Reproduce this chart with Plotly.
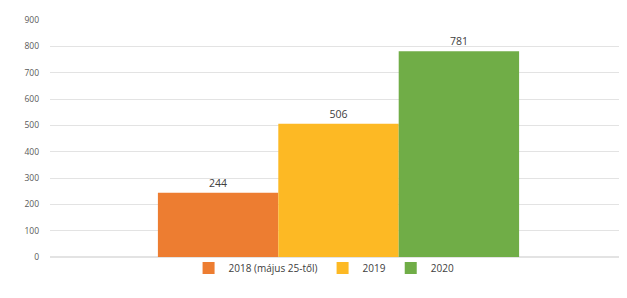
import plotly.graph_objects as go

series_names = ["2018 (május 25-től)", "2019", "2020"]
values = [244, 506, 781]
colors = ["#ED7D31", "#FDB924", "#70AD47"]
category = [""]
y_ticks = [0, 100, 200, 300, 400, 500, 600, 700, 800, 900]

fig = go.Figure()
for name, v, c in zip(series_names, values, colors):
    fig.add_trace(go.Bar(
        x=category, y=[v], name=name, marker=dict(color=c, line=dict(width=0)),
        text=[str(v)], textposition="outside",
        textfont=dict(family="Open Sans, Arial, sans-serif", size=10.5, color="#404040"),
        cliponaxis=False,
    ))

fig.update_layout(
    width=627, height=298,
    margin=dict(l=42, r=8, t=12, b=49, autoexpand=False),
    paper_bgcolor="white", plot_bgcolor="white",
    barmode="group", bargap=0.374, bargroupgap=0,
    font=dict(family="Open Sans, Arial, sans-serif", size=8, color="#595959"),
    yaxis=dict(range=[0, 900], tickvals=y_ticks, showgrid=True, gridcolor="#E3E3E3",
               gridwidth=1, zeroline=True, zerolinecolor="#E3E3E3", showline=False,
               ticks="", ticklen=0, ticklabelstandoff=10,
               tickfont=dict(size=8.5, color="#595959")),
    xaxis=dict(showticklabels=False, showline=False, ticks=""),
    legend=dict(orientation="h", x=0.475, xanchor="center", y=-0.046, yanchor="middle",
                font=dict(size=10, color="#404040"), itemwidth=30,
                traceorder="normal", bgcolor="rgba(0,0,0,0)"),
    showlegend=True,
)

fig.write_html("out.html")
